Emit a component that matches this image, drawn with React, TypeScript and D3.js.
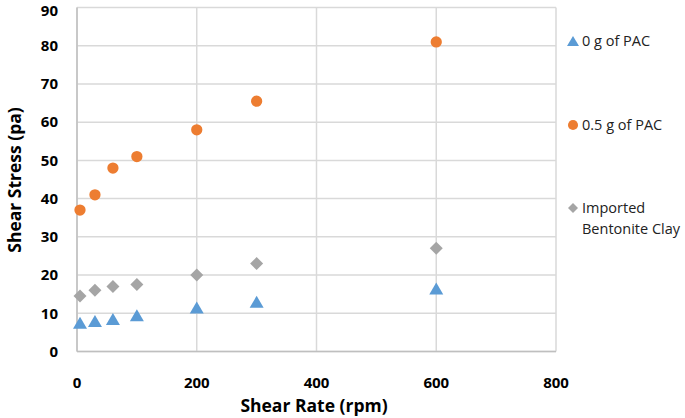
import React from "react";
import * as d3 from "d3";

const shearRate = [5, 30, 60, 100, 200, 300, 600];
const pac0 = [7.5, 8, 8.5, 9.5, 11.5, 13, 16.5];
const pac05 = [37, 41, 48, 51, 58, 65.5, 81];
const bentonite = [14.5, 16, 17, 17.5, 20, 23, 27];
const xTicks = [0, 200, 400, 600, 800];
const yTicks = [0, 10, 20, 30, 40, 50, 60, 70, 80, 90];

const W = 685, H = 418;
const left = 77, right = 556, top = 7.5, bottom = 351.5;

function triPath(w: number, h: number) {
  const p = d3.path();
  p.moveTo(0, -h / 2);
  p.lineTo(w / 2, h / 2);
  p.lineTo(-w / 2, h / 2);
  p.closePath();
  return p.toString();
}
function diaPath(r: number) {
  const p = d3.path();
  p.moveTo(0, -r);
  p.lineTo(r, 0);
  p.lineTo(0, r);
  p.lineTo(-r, 0);
  p.closePath();
  return p.toString();
}

export default function App() {
  const x = d3.scaleLinear().domain([0, 800]).range([left, right]);
  const y = d3.scaleLinear().domain([0, 90]).range([bottom, top]);
  const tri = triPath(14, 12);
  const circ = d3.symbol().type(d3.symbolCircle).size(100)() as string;
  const dia = diaPath(6.5);
  const font = "Open Sans, Liberation Sans, sans-serif";
  const grid = "#d9d9d9";
  return (
    <svg width={W} height={H} style={{ position: "absolute", left: 0, top: 0 }} fontFamily={font}>
      <rect width={W} height={H} fill="#fff" />
      {yTicks.map((t) => (
        <line key={"gy" + t} x1={left} x2={right} y1={y(t)} y2={y(t)} stroke={grid} strokeWidth={1.5} />
      ))}
      {xTicks.map((t) => (
        <line key={"gx" + t} x1={x(t)} x2={x(t)} y1={top} y2={bottom} stroke={grid} strokeWidth={1.5} />
      ))}
      <line x1={left} x2={left} y1={top} y2={bottom} stroke="#bfbfbf" strokeWidth={1.5} />
      <line x1={left} x2={right} y1={bottom} y2={bottom} stroke="#bfbfbf" strokeWidth={1.5} />
      {yTicks.map((t) => (
        <text key={"ty" + t} x={58} y={Math.max(y(t), 10.5)} dy="0.35em" textAnchor="end" fontSize={15} fontWeight="bold" fill="#000">{t}</text>
      ))}
      {xTicks.map((t) => (
        <text key={"tx" + t} x={x(t)} y={383} dy="0.35em" textAnchor="middle" fontSize={15} fontWeight="bold" fill="#000">{t}</text>
      ))}
      <text x={314} y={406} dy="0.35em" textAnchor="middle" fontSize={17.5} fontWeight="bold">Shear Rate (rpm)</text>
      <text transform={`translate(15,${180}) rotate(-90)`} dy="0.35em" textAnchor="middle" fontSize={17.5} fontWeight="bold">Shear Stress (pa)</text>
      {shearRate.map((r, i) => (
        <path key={"b" + i} d={dia} transform={`translate(${x(r)},${y(bentonite[i])})`} fill="#a5a5a5" />
      ))}
      {shearRate.map((r, i) => (
        <path key={"t" + i} d={tri} transform={`translate(${x(r)},${y(pac0[i])})`} fill="#5b9bd5" />
      ))}
      {shearRate.map((r, i) => (
        <path key={"c" + i} d={circ} transform={`translate(${x(r)},${y(pac05[i])})`} fill="#ed7d31" />
      ))}
      <path d={triPath(12, 10)} transform="translate(573,41)" fill="#5b9bd5" />
      <text x={582} y={41} dy="0.35em" fontSize={14.5} fill="#222">0 g of PAC</text>
      <path d={d3.symbol().type(d3.symbolCircle).size(80)() as string} transform="translate(573,125)" fill="#ed7d31" />
      <text x={582} y={125} dy="0.35em" fontSize={14.5} fill="#222">0.5 g of PAC</text>
      <path d={diaPath(5)} transform="translate(573,208)" fill="#a5a5a5" />
      <text x={582} y={208} dy="0.35em" fontSize={14.5} fill="#222">Imported</text>
      <text x={582} y={229} dy="0.35em" fontSize={14.5} fill="#222">Bentonite Clay</text>
    </svg>
  );
}
